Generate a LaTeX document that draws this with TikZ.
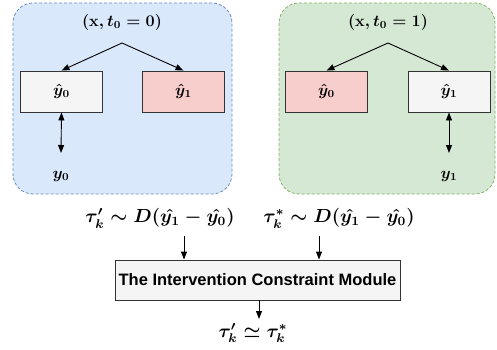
\documentclass[tikz,border=0pt]{standalone}
\usepackage{amsmath}
\usepackage{graphicx}
\usepackage{fontspec}
\newfontfamily\modfont{Liberation Sans}
\usetikzlibrary{arrows.meta,calc}
\definecolor{bluefill}{HTML}{DAE8FC}
\definecolor{blueline}{HTML}{6C8EBF}
\definecolor{greenfill}{HTML}{D5E8D4}
\definecolor{greenline}{HTML}{82B366}
\definecolor{grayfill}{HTML}{F5F5F5}
\definecolor{redfill}{HTML}{F8CECC}
\definecolor{boxline}{HTML}{333333}
\newcommand{\mylabm}[1]{\scalebox{1.35}{\large\boldmath$#1$}}
\newcommand{\mybotm}[1]{\scalebox{1.58}{\large\boldmath$#1$}}
\tikzset{
  group/.style={draw, dashed, dash pattern=on 3pt off 2pt, rounded corners=20pt, line width=0.8pt},
  ybox/.style={draw=boxline, line width=0.9pt, minimum width=82pt, minimum height=41pt, inner sep=0pt},
  lab/.style={inner sep=1pt},
  arr/.style={-{Triangle[length=8pt,width=6pt]}, line width=0.9pt},
  darr/.style={{Triangle[length=8pt,width=6pt]}-{Triangle[length=8pt,width=6pt]}, line width=0.9pt},
}
\begin{document}
\begin{tikzpicture}[x=1pt,y=-1pt]
\useasboundingbox (0,0) rectangle (497,350);
% groups
\draw[group, fill=bluefill, draw=blueline] (13,3) rectangle (232,194);
\draw[group, fill=greenfill, draw=greenline] (279,3) rectangle (495,194);
% left group
\node[lab] (tL) at (122,22) {\mylabm{(\mathbf{x}, t_0 = 0)}};
\coordinate (apL) at (122,43);
\node[ybox, fill=grayfill] (Ly0) at (61.5,91.5) {\mylabm{\hat{y}_0}};
\node[ybox, fill=redfill] (Ly1) at (183.5,91.5) {\mylabm{\hat{y}_1}};
\node[lab] (y0) at (61,176) {\mylabm{y_0}};
\coordinate (y0t) at (61,153);
\draw[arr] (apL) -- (Ly0.north);
\draw[arr] (apL) -- (Ly1.north);
\draw[darr] (Ly0.south) -- (y0t);
% right group
\node[lab] (tR) at (388,22) {\mylabm{(\mathbf{x}, t_0 = 1)}};
\coordinate (apR) at (388,43);
\node[ybox, fill=redfill] (Ry0) at (326.5,91.5) {\mylabm{\hat{y}_0}};
\node[ybox, fill=grayfill] (Ry1) at (449,91.5) {\mylabm{\hat{y}_1}};
\node[lab] (y1) at (449,176) {\mylabm{y_1}};
\coordinate (y1t) at (449,153);
\draw[arr] (apR) -- (Ry0.north);
\draw[arr] (apR) -- (Ry1.north);
\draw[darr] (Ry1.south) -- (y1t);
% bottom
\node[lab] (tau1) at (160,218) {\mybotm{\tau_k' \sim D(\hat{y_1} - \hat{y_0})}};
\node[lab] (tau2) at (339,218) {\mybotm{\tau_k^* \sim D(\hat{y_1} - \hat{y_0})}};
\node[draw=boxline, fill=grayfill, line width=0.9pt, minimum width=285pt, minimum height=40pt, inner sep=0pt, font=\modfont\bfseries\fontsize{16.5}{19}\selectfont] (mod) at (257.5,280) {The Intervention Constraint Module};
\coordinate (a1) at (184,236);
\coordinate (a2) at (319,236);
\draw[arr] (a1) -- (a1 |- mod.north);
\draw[arr] (a2) -- (a2 |- mod.north);
\node[lab] (res) at (253,333) {\mybotm{\tau_k' \simeq \tau_k^*}};
\coordinate (rt) at (259,319);
\draw[arr] (mod.south -| rt) -- (rt);
\end{tikzpicture}
\end{document}
